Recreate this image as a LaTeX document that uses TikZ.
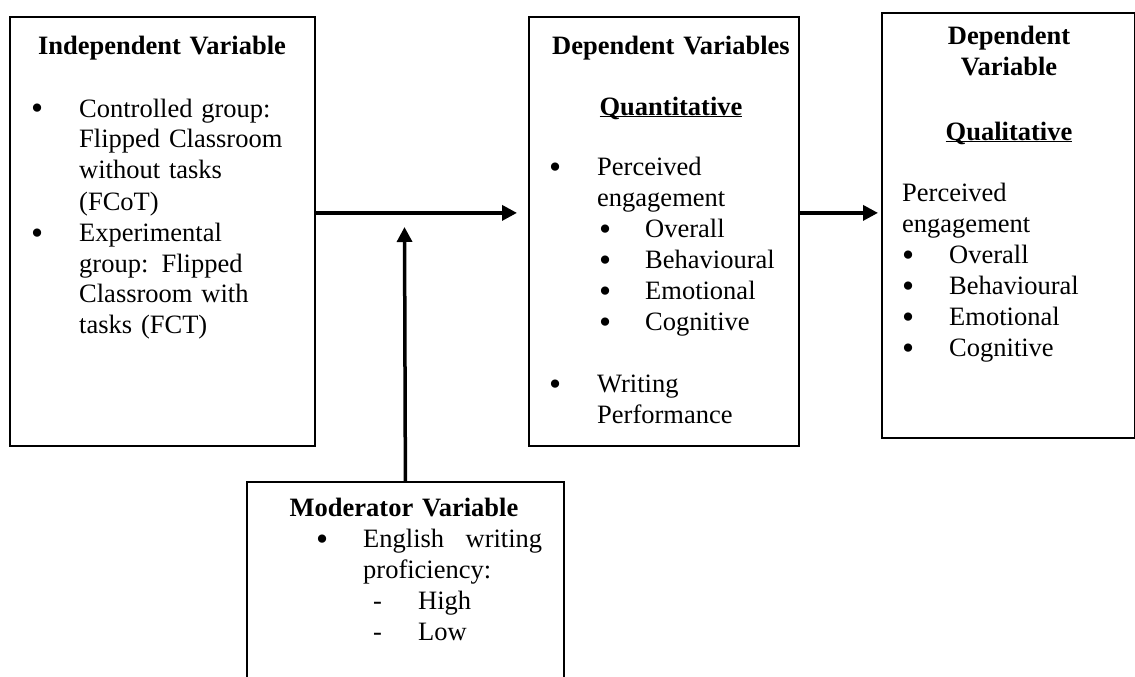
\documentclass[tikz,border=0pt]{standalone}
\usepackage{fontspec}
\setmainfont{Liberation Serif}
\usetikzlibrary{positioning,arrows.meta,calc}

\newcommand{\bodyfont}{\fontsize{26.5}{31}\selectfont}
\newcommand{\bigdot}{\smash{\raisebox{-3pt}{\scalebox{1.3}{\textbullet}}}}
\newcommand{\bul}[2]{\makebox[#2][l]{\hspace*{#1}\bigdot}}
\newcommand{\dsh}[2]{\makebox[#2][l]{\hspace*{#1}-}}
\newcommand{\ulhead}[1]{\underline{\smash{\textbf{#1}}}}

\begin{document}
\begin{tikzpicture}[x=1pt, y=-1pt, font=\bodyfont,
  varbox/.style={draw=black, line width=1.8pt, rectangle, inner sep=0pt, anchor=north west},
  head/.style={font=\bodyfont\bfseries, text width=260pt, align=center, anchor=base, inner sep=0pt},
  list/.style={text width=260pt, align=left, anchor=base west, inner sep=0pt},
  flow/.style={draw=black, line width=3.5pt, -{Triangle[length=15pt,width=15pt]}}]
%PICTURE SCOPE
\useasboundingbox (0,0) rectangle (1135,677);
\clip (0,0) rectangle (1135,677);
%BOXES
\node (indep) [varbox, minimum width=305pt, minimum height=429pt] at (9,16) {};
\node (dep) [varbox, minimum width=270pt, minimum height=429pt] at (528,16) {};
\node (qual) [varbox, minimum width=253pt, minimum height=425pt] at (881,12) {};
\node (mod) [varbox, minimum width=317pt, minimum height=230pt] at (246,481) {};
%INDEPENDENT
\node (indepHead) [head] at (162,55) {Independent Variable};
\node (indepList) [list] at (31,117) {\bul{0pt}{48pt}Controlled group:\\ \hspace*{48pt}Flipped Classroom\\ \hspace*{48pt}without tasks\\ \hspace*{48pt}(FCoT)\\ \bul{0pt}{48pt}Experimental\\ \hspace*{48pt}group: Flipped\\ \hspace*{48pt}Classroom with\\ \hspace*{48pt}tasks (FCT)};
%DEPENDENT (QUANTITATIVE)
\node (depHead) [head] at (671,55) {Dependent Variables};
\node (quantHead) [head] at (671,115) {\ulhead{Quantitative}};
\node (depList) [list] at (549,175) {\bul{0pt}{48pt}Perceived\\ \hspace*{48pt}engagement\\ \bul{50pt}{96pt}Overall\\ \bul{50pt}{96pt}Behavioural\\ \bul{50pt}{96pt}Emotional\\ \bul{50pt}{96pt}Cognitive\\[31pt] \bul{0pt}{48pt}Writing\\ \hspace*{48pt}Performance};
%DEPENDENT (QUALITATIVE)
\node (qualHead) [head] at (1009,45) {Dependent\\ Variable};
\node (qualSub) [head] at (1009,140) {\ulhead{Qualitative}};
\node (qualList) [list] at (902,201) {Perceived\\ engagement\\ \bul{0pt}{47pt}Overall\\ \bul{0pt}{47pt}Behavioural\\ \bul{0pt}{47pt}Emotional\\ \bul{0pt}{47pt}Cognitive};
%MODERATOR
\node (modHead) [head] at (404,516) {Moderator Variable};
\node (modList) [list] at (316,547) {\bul{0pt}{47pt}\makebox[179pt][s]{English\hfill writing}\\ \hspace*{47pt}proficiency:\\ \dsh{57pt}{102pt}High\\ \dsh{57pt}{102pt}Low};
%CONNECTIONS
\coordinate (a1) at ([yshift=18.5pt]indep.east);
\coordinate (a2) at (a1 -| dep.east);
\coordinate (modtip) at (404.5,227);
\draw [flow, shorten >=11pt] (a1) -- (a1 -| dep.west);
\draw [flow, shorten >=3pt] (a2) -- (a2 -| qual.west);
\draw [flow] (mod.north) -- (modtip);
\end{tikzpicture}
\end{document}
